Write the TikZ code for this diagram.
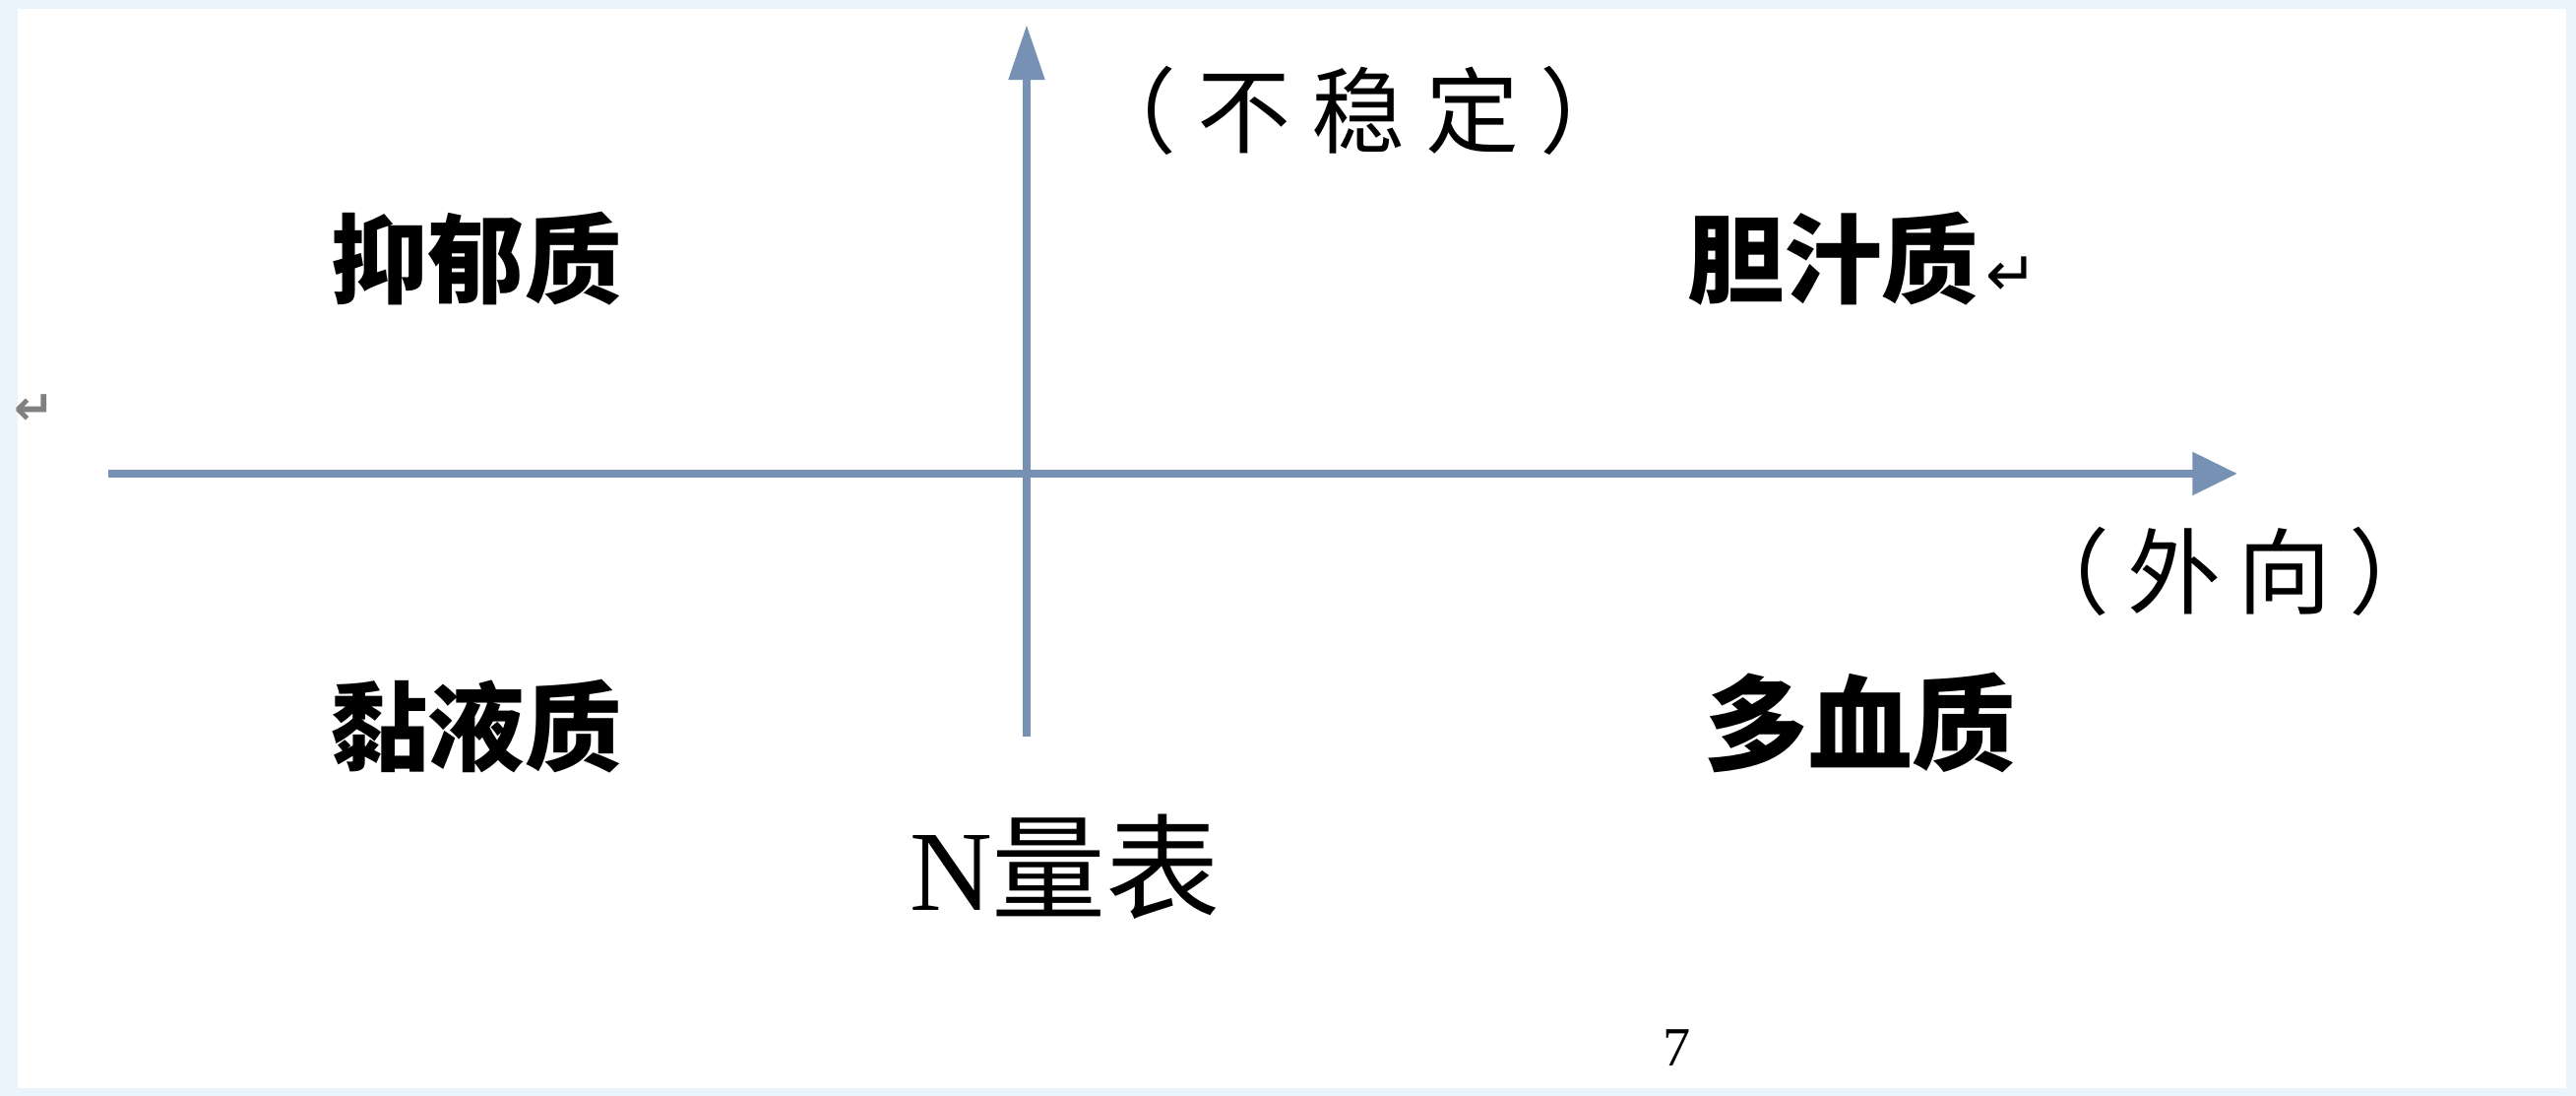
\documentclass[tikz,border=0pt]{standalone}
\usepackage{fontspec}
\setmainfont{Liberation Serif}
\newfontfamily\cjk{Noto Sans CJK SC}
\newfontfamily\symfont{DejaVu Sans}
\usetikzlibrary{arrows.meta}
\definecolor{framebg}{RGB}{234,244,253}
\definecolor{axisblue}{RGB}{118,145,180}
\newcommand{\gapA}{\hspace{6pt}}
\newcommand{\gapB}{\hspace{5pt}}
\begin{document}
\begin{tikzpicture}[x=0.01cm,y=0.01cm,
  axis/.style={draw=axisblue, line width=2.3pt},
  typelabel/.style={inner sep=0pt, font=\cjk\bfseries\fontsize{28pt}{28pt}\selectfont},
  hint/.style={inner sep=0pt, font=\cjk\fontsize{27pt}{27pt}\selectfont}]
\fill[framebg] (0,0) rectangle (2617,1113);
\fill[white] (18,8) rectangle (2607,1104);
\useasboundingbox (0,0) rectangle (2617,1113);
\coordinate (xs) at (110,632);
\coordinate (xe) at (2273,632);
\coordinate (ys) at (1043,365);
\coordinate (ye) at (1043,1088);
\draw[axis, -{Triangle[length=13pt,width=12pt]}] (xs) -- (xe);
\draw[axis, -{Triangle[length=16pt,width=10pt]}] (ys) -- (ye);
\node[hint] (unstable) at (1380,1001) {（\gapA 不\gapA 稳\gapA 定\gapA ）};
\node[typelabel] (mel) at (484,850) {抑郁质};
\node[typelabel, anchor=west] (chol) at (1714,850) {胆汁质\hspace{2pt}{\symfont\mdseries\fontsize{18pt}{18pt}\selectfont ↵}};
\node[typelabel] (phl) at (484,375) {黏液质};
\node[typelabel, font=\cjk\bfseries\fontsize{30pt}{30pt}\selectfont] (san) at (1890,379) {多血质};
\node[hint] (extra) at (2265,533) {（\gapB 外\gapB 向\gapB ）};
\node[inner sep=0pt, font=\fontsize{33pt}{33pt}\selectfont] (nscale) at (1082,233) {N{\cjk 量表}};
\node[inner sep=0pt, font=\fontsize{16pt}{16pt}\selectfont] (page) at (1704,49) {7};
\node[inner sep=0pt, text=gray, font=\symfont\bfseries\fontsize{14pt}{14pt}\selectfont] (ret) at (35,697) {↵};
\end{tikzpicture}
\end{document}
